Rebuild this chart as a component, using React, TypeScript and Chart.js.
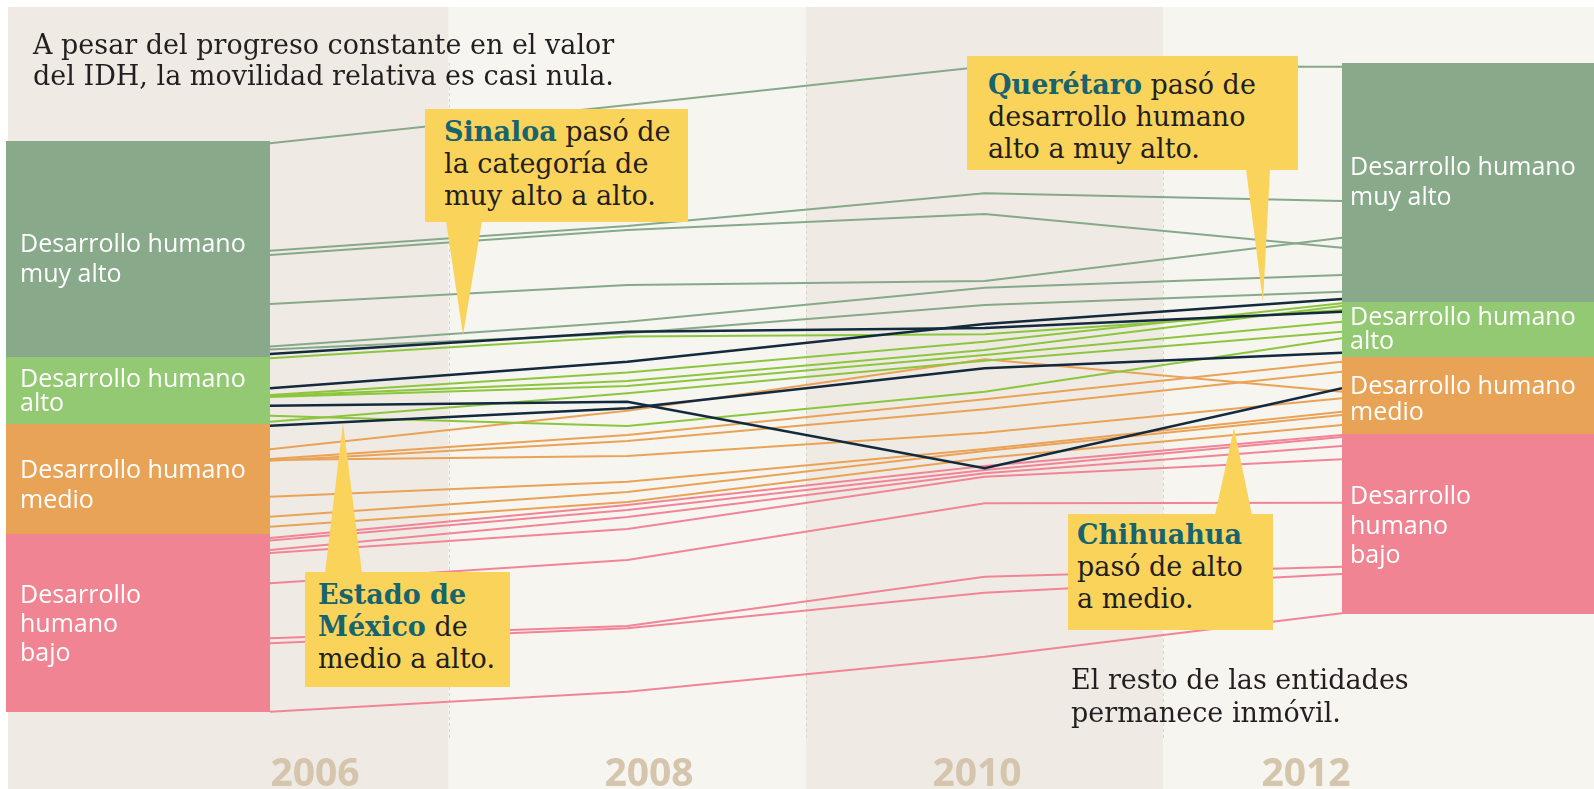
import React, { useEffect, useRef } from "react";
import { Chart, registerables } from "chart.js";
Chart.register(...registerables);

// ---------- DATA ----------
const years = [2006, 2008, 2010, 2012];

// IDH estimado por entidad (2006, 2008, 2010, 2012)
const muyAlto = [
  [0.8187, 0.834, 0.8494, 0.8493],
  [0.7757, 0.7856, 0.7987, 0.7956],
  [0.774, 0.784, 0.7904, 0.7769],
  [0.7544, 0.762, 0.7636, 0.7809],
  [0.7374, 0.7473, 0.7609, 0.766],
  [0.7362, 0.7427, 0.754, 0.7593],
];
const alto = [
  [0.7327, 0.7414, 0.7423, 0.752],
  [0.718, 0.727, 0.7393, 0.7547],
  [0.7176, 0.7236, 0.736, 0.7536],
  [0.7172, 0.7216, 0.734, 0.7473],
  [0.7073, 0.7187, 0.7317, 0.7433],
  [0.7097, 0.7056, 0.7193, 0.7407],
];
const medio = [
  [0.6963, 0.7117, 0.7323, 0.7193],
  [0.6924, 0.702, 0.7163, 0.7313],
  [0.6917, 0.6996, 0.7123, 0.7273],
  [0.692, 0.6936, 0.7029, 0.7167],
  [0.6773, 0.6833, 0.6964, 0.7113],
  [0.6693, 0.6792, 0.6956, 0.71],
  [0.6653, 0.6752, 0.6928, 0.706],
];
const bajo = [
  [0.6608, 0.674, 0.6896, 0.702],
  [0.6598, 0.672, 0.688, 0.7012],
  [0.656, 0.6692, 0.6867, 0.6976],
  [0.6548, 0.6644, 0.6853, 0.6923],
  [0.6427, 0.652, 0.6747, 0.6749],
  [0.6207, 0.6256, 0.6453, 0.6493],
  [0.6187, 0.6247, 0.6389, 0.6464],
  [0.5913, 0.5993, 0.6133, 0.6307],
];
const sinaloa = [0.7344, 0.7433, 0.7448, 0.7513];
const queretaro = [0.7207, 0.7313, 0.7464, 0.7564];
const chihuahua = [0.7137, 0.7153, 0.6887, 0.7207];
const edomex = [0.7057, 0.7127, 0.7287, 0.7349];

// límites de las categorías (de arriba hacia abajo)
const limits2006 = [0.8196, 0.7332, 0.7064, 0.6624, 0.5913];
const limits2012 = [0.8508, 0.7552, 0.7332, 0.7024, 0.6304];
const bandDividers = [2007, 2009, 2011];
const yearLabels = ["2006", "2008", "2010", "2012"];
const categoryNames = ["muy alto", "alto", "medio", "bajo"];

// ---------- STYLE ----------
const W = 1594;
const H = 789;
const lineColors = { muyAlto: "#86a98a", alto: "#8cc63f", medio: "#eaa257", bajo: "#f18597", navy: "#13293d" };
const blockColors = ["#88a98a", "#93c973", "#e8a357", "#f08492"];
const SERIF = '"DejaVu Serif", serif';
const SANS = '"Open Sans", sans-serif';
const SERIF_SIZE = 27;

const bgPlugin = {
  id: "bgPlugin",
  beforeDraw(chart: any) {
    const { ctx, scales } = chart;
    const x = scales.x;
    ctx.save();
    ctx.fillStyle = "#ffffff";
    ctx.fillRect(0, 0, chart.width, chart.height);
    const edges = [8, ...bandDividers.map((v) => x.getPixelForValue(v)), chart.width];
    const fills = ["#efebe4", "#f6f5f0", "#efebe4", "#f6f5f0"];
    for (let i = 0; i < 4; i++) {
      ctx.fillStyle = fills[i];
      ctx.fillRect(edges[i], 7, edges[i + 1] - edges[i], chart.height - 7);
    }
    ctx.strokeStyle = "#d9d5cd";
    ctx.lineWidth = 1;
    ctx.setLineDash([3, 3]);
    for (const v of bandDividers) {
      const px = Math.round(x.getPixelForValue(v)) + 0.5;
      ctx.beginPath();
      ctx.moveTo(px, 63);
      ctx.lineTo(px, 738);
      ctx.stroke();
    }
    ctx.restore();
  },
  afterDraw(chart: any) {
    const { ctx, scales, chartArea } = chart;
    const y = scales.y;
    ctx.save();
    for (let i = 0; i < 4; i++) {
      ctx.fillStyle = blockColors[i];
      const a = Math.round(y.getPixelForValue(limits2006[i]));
      const b = Math.round(y.getPixelForValue(limits2006[i + 1]));
      ctx.fillRect(6, a, chartArea.left - 6, b - a);
      const c = Math.round(y.getPixelForValue(limits2012[i]));
      const d = Math.round(y.getPixelForValue(limits2012[i + 1]));
      ctx.fillRect(chartArea.right, c, chart.width - chartArea.right, d - c);
    }
    ctx.restore();
  },
};

function mk(values: number[], color: string, width: number, order: number, label: string) {
  return {
    label,
    data: values.map((v, i) => ({ x: years[i], y: v })),
    borderColor: color,
    borderWidth: width,
    pointRadius: 0,
    tension: 0,
    fill: false,
    order,
  };
}

function ChartCanvas() {
  const ref = useRef<HTMLCanvasElement | null>(null);
  useEffect(() => {
    if (!ref.current) return;
    const datasets: any[] = [];
    muyAlto.forEach((s, i) => datasets.push(mk(s, lineColors.muyAlto, 1.8, 2, "muy alto " + i)));
    alto.forEach((s, i) => datasets.push(mk(s, lineColors.alto, 1.8, 2, "alto " + i)));
    medio.forEach((s, i) => datasets.push(mk(s, lineColors.medio, 1.8, 2, "medio " + i)));
    bajo.forEach((s, i) => datasets.push(mk(s, lineColors.bajo, 1.8, 2, "bajo " + i)));
    datasets.push(mk(sinaloa, lineColors.navy, 2.6, 1, "Sinaloa"));
    datasets.push(mk(queretaro, lineColors.navy, 2.6, 1, "Querétaro"));
    datasets.push(mk(chihuahua, lineColors.navy, 2.6, 1, "Chihuahua"));
    datasets.push(mk(edomex, lineColors.navy, 2.6, 1, "Estado de México"));
    const chart = new Chart(ref.current, {
      type: "line",
      data: { datasets },
      options: {
        animation: false,
        responsive: false,
        devicePixelRatio: 1,
        layout: { padding: { left: 270, right: W - 1342, top: 40, bottom: H - 740 } },
        plugins: { legend: { display: false }, tooltip: { enabled: false } },
        scales: {
          x: { type: "linear", min: 2006, max: 2012, display: false },
          y: { type: "linear", min: 0.58, max: 0.86, display: false },
        },
      },
      plugins: [bgPlugin],
    } as any);
    return () => chart.destroy();
  }, []);
  return <canvas ref={ref} width={W} height={H} style={{ position: "absolute", left: 0, top: 0, width: W, height: H }} />;
}

const abs = (left: number, top: number, extra: any = {}) => ({ position: "absolute" as const, left, top, ...extra });

function BlockLabel({ left, top, lh, lines }: { left: number; top: number; lh: number; lines: string[] }) {
  return (
    <div style={abs(left, top, { color: "#ffffff", fontFamily: SANS, fontSize: 25, lineHeight: lh + "px", whiteSpace: "nowrap" })}>
      {lines.map((l, i) => (
        <div key={i}>{l}</div>
      ))}
    </div>
  );
}

function Callout({ box, pad, children }: { box: number[]; pad: number[]; children: any }) {
  const [left, top, width, height] = box;
  return (
    <div
      style={abs(left, top, {
        width,
        height,
        boxSizing: "border-box",
        background: "#fad35b",
        paddingLeft: pad[0],
        paddingTop: pad[1],
        fontFamily: SERIF,
        fontSize: SERIF_SIZE,
        lineHeight: "32px",
        color: "#231f20",
        whiteSpace: "nowrap",
      })}
    >
      {children}
    </div>
  );
}

const B = ({ children }: { children: any }) => <b style={{ color: "#17646f" }}>{children}</b>;

export default function App() {
  const yearX = [315, 649, 977, 1306];
  return (
    <div style={{ position: "fixed", left: 0, top: 0, width: W, height: H, overflow: "hidden", background: "#fff" }}>
      <ChartCanvas />
      <svg width={W} height={H} style={{ position: "absolute", left: 0, top: 0 }}>
        <polygon points="446,221 482,221 463,335" fill="#fad35b" />
        <polygon points="1246,169 1270,169 1263,302" fill="#fad35b" />
        <polygon points="325,573 362,573 343,423" fill="#fad35b" />
        <polygon points="1215,515 1252,515 1234,428" fill="#fad35b" />
      </svg>
      <div style={abs(33, 29, { fontFamily: SERIF, fontSize: SERIF_SIZE, lineHeight: "31px", color: "#231f20", whiteSpace: "nowrap" })}>
        <div>A pesar del progreso constante en el valor</div>
        <div>del IDH, la movilidad relativa es casi nula.</div>
      </div>
      <BlockLabel left={20} top={228} lh={29.5} lines={["Desarrollo humano", categoryNames[0]]} />
      <BlockLabel left={20} top={366} lh={23.6} lines={["Desarrollo humano", categoryNames[1]]} />
      <BlockLabel left={20} top={454} lh={29.5} lines={["Desarrollo humano", categoryNames[2]]} />
      <BlockLabel left={20} top={579} lh={29} lines={["Desarrollo", "humano", categoryNames[3]]} />
      <BlockLabel left={1350} top={151} lh={29.5} lines={["Desarrollo humano", categoryNames[0]]} />
      <BlockLabel left={1350} top={304} lh={23.5} lines={["Desarrollo humano", categoryNames[1]]} />
      <BlockLabel left={1350} top={372} lh={25.5} lines={["Desarrollo humano", categoryNames[2]]} />
      <BlockLabel left={1350} top={480} lh={29.5} lines={["Desarrollo", "humano", categoryNames[3]]} />
      <Callout box={[425, 109, 263, 113]} pad={[19, 7]}>
        <div><B>Sinaloa</B> pasó de</div>
        <div>la categoría de</div>
        <div>muy alto a alto.</div>
      </Callout>
      <Callout box={[967, 56, 331, 114]} pad={[21, 13]}>
        <div><B>Querétaro</B> pasó de</div>
        <div>desarrollo humano</div>
        <div>alto a muy alto.</div>
      </Callout>
      <Callout box={[305, 572, 205, 115]} pad={[13, 7]}>
        <div><B>Estado de</B></div>
        <div><B>México</B> de</div>
        <div>medio a alto.</div>
      </Callout>
      <Callout box={[1068, 514, 205, 116]} pad={[9, 5]}>
        <div><B>Chihuahua</B></div>
        <div>pasó de alto</div>
        <div>a medio.</div>
      </Callout>
      <div style={abs(1071, 664, { fontFamily: SERIF, fontSize: SERIF_SIZE, lineHeight: "32.5px", color: "#231f20", whiteSpace: "nowrap" })}>
        <div>El resto de las entidades</div>
        <div>permanece inmóvil.</div>
      </div>
      {yearLabels.map((t, i) => (
        <div
          key={t}
          style={abs(yearX[i] - 60, 748, {
            width: 120,
            textAlign: "center",
            fontFamily: SANS,
            fontWeight: 700,
            fontSize: 39,
            lineHeight: "46px",
            color: "#d4c5ac",
          })}
        >
          {t}
        </div>
      ))}
    </div>
  );
}
